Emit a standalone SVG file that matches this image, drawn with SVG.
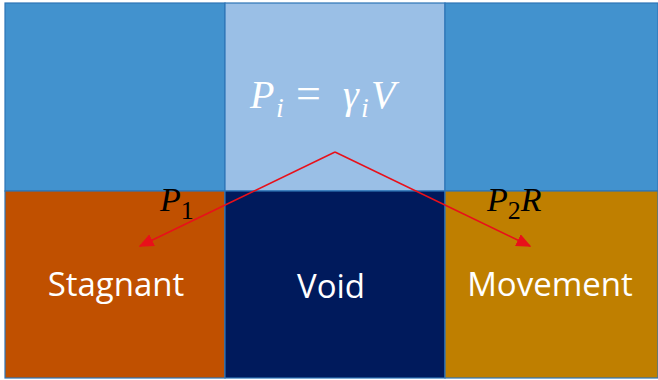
<svg xmlns="http://www.w3.org/2000/svg" width="658" height="380" viewBox="0 0 658 380">
<style>
.cell{stroke:#2E75B6;stroke-width:1.2}
.lbl{font-family:"Open Sans","Liberation Sans",sans-serif;font-size:33px;fill:#fff;text-anchor:middle}
.math{font-family:"Liberation Serif","DejaVu Serif",serif;font-style:italic}
.conn{stroke:#E8101A;stroke-width:1.5;fill:none}
</style>
<defs>
<marker id="arr" viewBox="0 0 10 10" refX="9" refY="5" markerWidth="15" markerHeight="13" orient="auto" markerUnits="userSpaceOnUse" preserveAspectRatio="none"><path d="M0,0 L10,5 L0,10 z" fill="#E8101A"/></marker>
</defs>
<rect width="658" height="380" fill="#ffffff"/>
<g id="top-left"><rect class="cell" x="5" y="3" width="220" height="188" fill="#4292CE"/></g>
<g id="top-center"><rect class="cell" x="225" y="3" width="220" height="188" fill="#9ABFE6"/>
<text class="math" y="108" font-size="40" fill="#fff"><tspan x="250">P</tspan><tspan x="276" font-size="28" dy="9">i</tspan><tspan x="296" dy="-9" font-style="normal" font-size="44">=</tspan><tspan x="343">γ</tspan><tspan x="361" font-size="28" dy="9">i</tspan><tspan x="371" dy="-9">V</tspan></text></g>
<g id="top-right"><rect class="cell" x="445" y="3" width="213" height="188" fill="#4292CE"/></g>
<g id="stagnant"><rect class="cell" x="5" y="191" width="220" height="187" fill="#C05000"/><text class="lbl" x="116" y="296">Stagnant</text></g>
<g id="void"><rect class="cell" x="225" y="191" width="220" height="187" fill="#001A5C"/><text class="lbl" x="331" y="298">Void</text></g>
<g id="movement"><rect class="cell" x="445" y="191" width="213" height="187" fill="#BF7F00"/><text class="lbl" x="550" y="296">Movement</text></g>
<g id="connectors">
<line class="conn" x1="335" y1="152" x2="140" y2="246" marker-end="url(#arr)"/>
<line class="conn" x1="335" y1="152" x2="530" y2="246" marker-end="url(#arr)"/>
</g>
<g id="labels">
<text class="math" x="160" y="211" font-size="34" fill="#000">P<tspan font-size="26" dy="8" font-style="normal">1</tspan></text>
<text class="math" x="487" y="211" font-size="34" fill="#000">P<tspan font-size="26" dy="8" font-style="normal">2</tspan><tspan dy="-8">R</tspan></text>
</g>
</svg>
